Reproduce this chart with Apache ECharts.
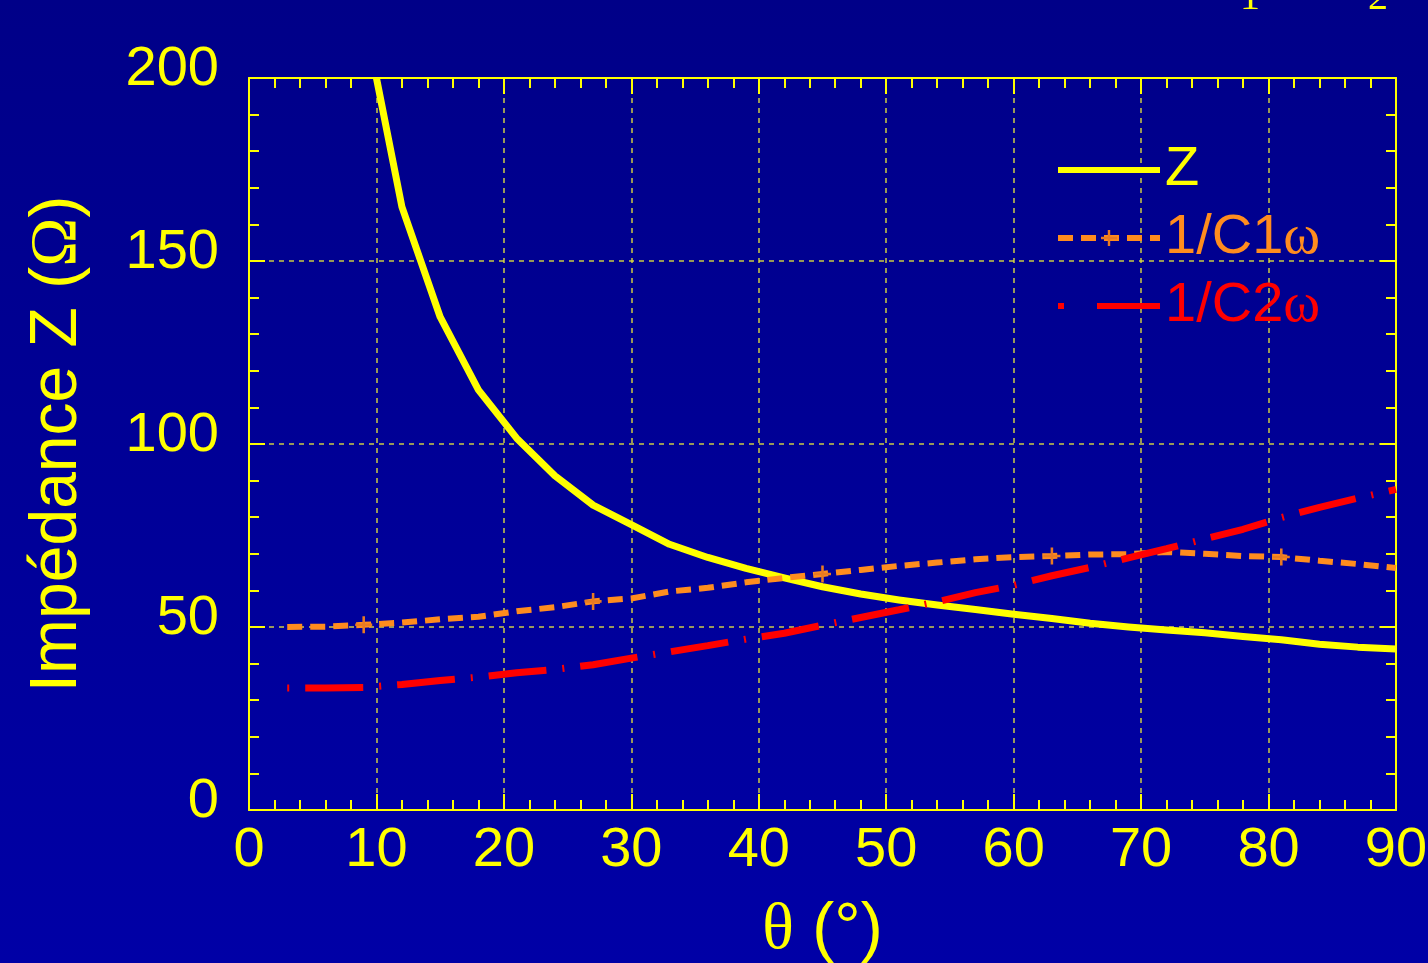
<!DOCTYPE html>
<html>
<head>
<meta charset="utf-8">
<script src="https://cdn.jsdelivr.net/npm/echarts@6/dist/echarts.min.js"></script>
<style>
html,body{margin:0;padding:0;width:1428px;height:963px;overflow:hidden;background:#00008c;}
#chart{width:1428px;height:963px;}
</style>
</head>
<body>
<div id="chart"></div>
<script>
// ---- data ----
const seriesNames = ['Z', '1/C1ω', '1/C2ω'];

const zTheta  = [10, 12, 15, 18, 21, 24, 27, 30, 33, 36, 39, 42, 45, 48, 51, 54, 57, 60, 63, 66, 69, 72, 75, 78, 81, 84, 87, 90];
const zValues = [200, 164.8, 134.7, 114.8, 101.6, 91.3, 83.3, 78.0, 72.6, 69.0, 66.0, 63.4, 61.0, 59.0, 57.4, 56.0, 54.8, 53.5, 52.3, 51.0, 50.0, 49.2, 48.4, 47.4, 46.5, 45.3, 44.5, 44.0];

const c1Theta  = [3, 6, 9, 12, 15, 18, 21, 24, 27, 30, 33, 36, 39, 42, 45, 48, 51, 54, 57, 60, 63, 66, 69, 72, 75, 78, 81, 84, 87, 90];
const c1Values = [50.0, 50.1, 50.6, 51.2, 52.1, 52.8, 54.3, 55.4, 57.0, 57.8, 59.7, 60.7, 62.2, 63.4, 64.5, 65.6, 66.7, 67.6, 68.5, 69.1, 69.4, 69.8, 69.9, 70.5, 70.0, 69.4, 69.1, 68.1, 67.2, 66.1];
const c1MarkTheta = [9, 27, 45, 63, 81];

const c2Theta  = [3, 6, 9, 12, 15, 18, 21, 24, 27, 30, 33, 36, 39, 42, 45, 48, 51, 54, 57, 60, 63, 66, 69, 72, 75, 78, 81, 84, 87, 90];
const c2Values = [33.3, 33.3, 33.5, 34.3, 35.4, 36.3, 37.5, 38.4, 39.7, 41.5, 43.2, 44.9, 46.7, 48.3, 50.5, 52.6, 54.7, 56.9, 59.4, 61.4, 64.0, 66.3, 68.9, 71.4, 74.1, 76.7, 79.9, 82.7, 85.2, 87.6];

const xMin = 0, xMax = 90, xInterval = 10;
const yMin = 0, yMax = 200, yInterval = 50;

// ---- styling ----
const YEL = '#ffff00';
const ORANGE = '#ff8c1e';
const RED = '#ff0000';
const GRIDC = 'rgba(225,225,60,0.9)';
const SANS = 'Liberation Sans, Arial, sans-serif';
const SERIF = 'Liberation Serif, Times New Roman, serif';
const plusPath = 'path://M8.5,0h3v20h-3z M0,8.5h20v3h-20z';
const CLEAR = 'rgba(0,0,0,0)';

const chart = echarts.init(document.getElementById('chart'), null, {renderer: 'canvas'});

function baseAxis(extra) {
  return Object.assign({
    axisLine: {show: true, onZero: false, lineStyle: {color: YEL, width: 2}},
    axisTick: {show: true, inside: true, length: 16, lineStyle: {color: YEL, width: 2}},
    minorTick: {show: true, splitNumber: 5, length: 10, lineStyle: {color: YEL, width: 2}},
    splitLine: {show: false},
    axisLabel: {show: false}
  }, extra);
}

const c1Data = c1Theta.map((t, i) => c1MarkTheta.includes(t) ? [t, c1Values[i]] : {value: [t, c1Values[i]], symbol: 'none'});

const option = {
  animation: false,
  backgroundColor: {
    type: 'linear', x: 0, y: 0, x2: 0, y2: 1,
    colorStops: [{offset: 0, color: '#000088'}, {offset: 1, color: '#0000a6'}]
  },
  textStyle: {fontFamily: SANS},
  grid: {left: 249, right: 32, top: 78, bottom: 153, containLabel: false, outerBoundsMode: 'none'},
  graphic: [
    {type: 'text', left: 1240, top: -22, silent: true,
     style: {text: '1', fill: YEL, font: '40px ' + SERIF}},
    {type: 'text', left: 1368, top: -22, silent: true,
     style: {text: '2', fill: YEL, font: '40px ' + SERIF}}
  ],
  legend: {
    orient: 'vertical',
    left: 1050,
    top: 135,
    itemWidth: 102,
    itemHeight: 20,
    itemGap: 8,
    selectedMode: false,
    data: [
      {name: seriesNames[0], textStyle: {color: YEL}},
      {name: seriesNames[1], textStyle: {color: ORANGE}},
      {name: seriesNames[2], textStyle: {color: RED}, lineStyle: {type: [6, 33, 70, 10], dashOffset: 0}}
    ],
    lineStyle: {width: 6},
    textStyle: {
      fontSize: 56, fontFamily: SANS, lineHeight: 60,
      rich: {
        o1: {fontSize: 56, fontFamily: SERIF, color: ORANGE, lineHeight: 60},
        o2: {fontSize: 56, fontFamily: SERIF, color: RED, lineHeight: 60}
      }
    },
    formatter: function (name) {
      if (name === seriesNames[1]) return '1/C1{o1|ω}';
      if (name === seriesNames[2]) return '1/C2{o2|ω}';
      return name;
    }
  },
  xAxis: [
    baseAxis({
      type: 'value', position: 'bottom', min: xMin, max: xMax, interval: xInterval,
      axisLabel: {show: true, color: YEL, fontSize: 56, fontFamily: SANS, margin: 13},
      splitLine: {show: true, lineStyle: {color: GRIDC, width: 1.5, type: [5, 5]}},
      name: '{t|θ} (°)',
      nameLocation: 'middle',
      nameGap: 88,
      nameTextStyle: {
        color: YEL, fontSize: 66, fontFamily: SANS,
        rich: {t: {fontSize: 66, fontFamily: SERIF, color: YEL}}
      }
    }),
    baseAxis({type: 'value', position: 'top', min: xMin, max: xMax, interval: xInterval})
  ],
  yAxis: [
    baseAxis({
      type: 'value', position: 'left', min: yMin, max: yMax, interval: yInterval,
      axisLabel: {show: true, color: YEL, fontSize: 56, fontFamily: SANS, margin: 30,
                  verticalAlign: 'bottom', lineHeight: 16},
      splitLine: {show: true, lineStyle: {color: GRIDC, width: 1.5, type: [5, 5]}},
      name: 'Impédance Z ({o|Ω})',
      nameLocation: 'middle',
      nameGap: 158,
      nameTextStyle: {
        color: YEL, fontSize: 66, fontFamily: SANS,
        rich: {o: {fontSize: 66, fontFamily: SERIF, color: YEL}}
      }
    }),
    baseAxis({type: 'value', position: 'right', min: yMin, max: yMax, interval: yInterval})
  ],
  series: [
    {
      name: seriesNames[0], type: 'line', xAxisIndex: 0, yAxisIndex: 0,
      data: zTheta.map((t, i) => [t, zValues[i]]),
      symbol: 'circle', symbolSize: 2, showSymbol: false, silent: true,
      itemStyle: {color: CLEAR, borderWidth: 0},
      lineStyle: {color: YEL, width: 7, cap: 'butt', join: 'round'},
      z: 2
    },
    {
      name: seriesNames[1], type: 'line', xAxisIndex: 0, yAxisIndex: 0,
      data: c1Data,
      symbol: plusPath, symbolSize: 17, showSymbol: true, showAllSymbol: true, silent: true,
      itemStyle: {color: '#e87a22', borderWidth: 0},
      lineStyle: {color: ORANGE, width: 6, type: [15, 8], cap: 'butt'},
      z: 3
    },
    {
      name: seriesNames[2], type: 'line', xAxisIndex: 0, yAxisIndex: 0,
      data: c2Theta.map((t, i) => [t, c2Values[i]]),
      symbol: 'circle', symbolSize: 2, showSymbol: false, silent: true,
      itemStyle: {color: CLEAR, borderWidth: 0},
      lineStyle: {color: RED, width: 7, type: [58, 16, 2, 16], dashOffset: 74, cap: 'butt'},
      z: 4
    }
  ]
};
chart.setOption(option);
</script>
</body>
</html>
